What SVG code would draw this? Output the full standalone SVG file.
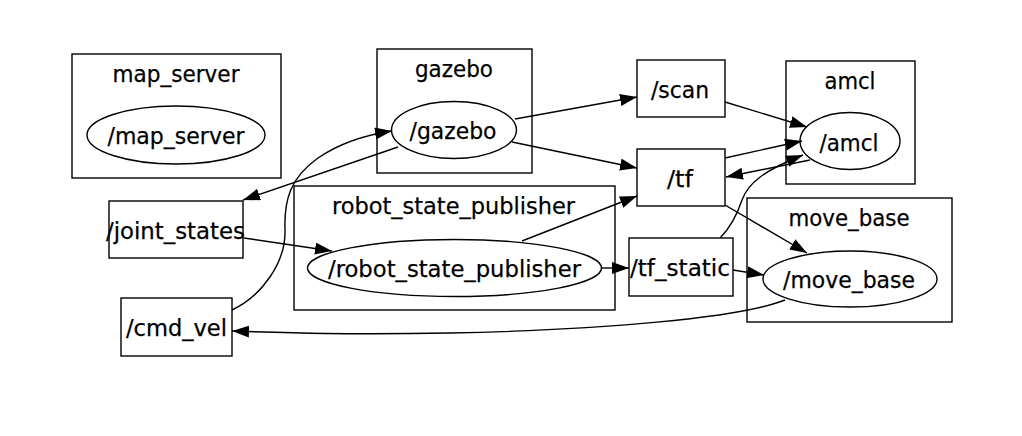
<svg xmlns="http://www.w3.org/2000/svg" width="1022" height="436" viewBox="0 0 1022 436">
<style>
  .cl { fill: none; stroke: #000; stroke-width: 1.4; }
  .nd { fill: none; stroke: #000; stroke-width: 1.4; }
  .e { fill: none; stroke: #000; stroke-width: 1.4; marker-end: url(#ah); }
  text { font-family: "DejaVu Sans", "Liberation Sans", sans-serif; font-size: 23px; fill: #000; stroke: #000; stroke-width: 0.25; text-anchor: middle; }
</style>
<defs>
  <marker id="ah" markerUnits="userSpaceOnUse" markerWidth="18" markerHeight="13" refX="17" refY="6" orient="auto">
    <path d="M0,0 L17,6 L0,12 z" fill="#000" stroke="none"/>
  </marker>
</defs>
<rect width="1022" height="436" fill="#fff"/>

<g id="cluster_map_server">
  <rect class="cl" x="72" y="54" width="209" height="124"/>
  <text x="176" y="82" textLength="127" lengthAdjust="spacingAndGlyphs">map_server</text>
</g>
<g id="node_map_server">
  <ellipse class="nd" cx="176" cy="135" rx="89" ry="29"/>
  <text x="176" y="143.5" textLength="137" lengthAdjust="spacingAndGlyphs">/map_server</text>
</g>

<g id="cluster_gazebo">
  <rect class="cl" x="377" y="49" width="155" height="124"/>
  <text x="454" y="77" textLength="78" lengthAdjust="spacingAndGlyphs">gazebo</text>
</g>
<g id="node_gazebo">
  <ellipse class="nd" cx="454" cy="130" rx="62.5" ry="28.5"/>
  <text x="453" y="139" textLength="87" lengthAdjust="spacingAndGlyphs">/gazebo</text>
</g>

<g id="node_scan">
  <rect class="nd" x="637" y="60" width="88" height="57"/>
  <text x="680" y="98" textLength="58" lengthAdjust="spacingAndGlyphs">/scan</text>
</g>
<g id="node_tf">
  <rect class="nd" x="637" y="149" width="88" height="57"/>
  <text x="680" y="187" textLength="26" lengthAdjust="spacingAndGlyphs">/tf</text>
</g>

<g id="cluster_amcl">
  <rect class="cl" x="786" y="61" width="129" height="123"/>
  <text x="850" y="89" textLength="51" lengthAdjust="spacingAndGlyphs">amcl</text>
</g>
<g id="node_amcl">
  <ellipse class="nd" cx="850" cy="141" rx="50" ry="28.5"/>
  <text x="849" y="151" textLength="59" lengthAdjust="spacingAndGlyphs">/amcl</text>
</g>

<g id="cluster_robot_state_publisher">
  <rect class="cl" x="294" y="186" width="321" height="124"/>
  <text x="453.5" y="214" textLength="243" lengthAdjust="spacingAndGlyphs">robot_state_publisher</text>
</g>
<g id="node_robot_state_publisher">
  <ellipse class="nd" cx="454.5" cy="268" rx="147" ry="28.5"/>
  <text x="454.5" y="277" textLength="253" lengthAdjust="spacingAndGlyphs">/robot_state_publisher</text>
</g>

<g id="node_tf_static">
  <rect class="nd" x="629" y="238" width="104" height="58"/>
  <text x="680" y="276" textLength="100" lengthAdjust="spacingAndGlyphs">/tf_static</text>
</g>

<g id="cluster_move_base">
  <rect class="cl" x="747" y="198" width="205" height="124"/>
  <text x="849" y="226" textLength="121" lengthAdjust="spacingAndGlyphs">move_base</text>
</g>
<g id="node_move_base">
  <ellipse class="nd" cx="850" cy="279" rx="87" ry="28"/>
  <text x="849" y="288" textLength="132" lengthAdjust="spacingAndGlyphs">/move_base</text>
</g>

<g id="node_joint_states">
  <rect class="nd" x="109" y="201" width="134" height="57"/>
  <text x="175.5" y="238.5" textLength="139" lengthAdjust="spacingAndGlyphs">/joint_states</text>
</g>
<g id="node_cmd_vel">
  <rect class="nd" x="121" y="298" width="111" height="58"/>
  <text x="176.5" y="336" textLength="101" lengthAdjust="spacingAndGlyphs">/cmd_vel</text>
</g>

<g id="connectors">
  <path class="e" d="M515,119 L637,97"/>
  <path class="e" d="M512,142 L637,168"/>
  <path class="e" d="M398,147 L243,200"/>
  <path class="e" d="M232,310 C262,296 286,262 285,230 C284,200 290,178 318,158 C340,143 365,135 392,131"/>
  <path class="e" d="M244,238 L332,251"/>
  <path class="e" d="M522,241 L637,196"/>
  <path class="e" d="M602,268 L629,268"/>
  <path class="e" d="M725,102 L807,127"/>
  <path class="e" d="M725,158 L802,141"/>
  <path class="e" d="M810,160 L726,177"/>
  <path class="e" d="M720,238 C730,228 737,215 742,200 C748,183 765,170 803,155"/>
  <path class="e" d="M725,205 L807,253"/>
  <path class="e" d="M733,270 L764,275"/>
  <path class="e" d="M785,300 C740,318 600,330 450,333 C350,335 290,333 232,331"/>
</g>
</svg>
